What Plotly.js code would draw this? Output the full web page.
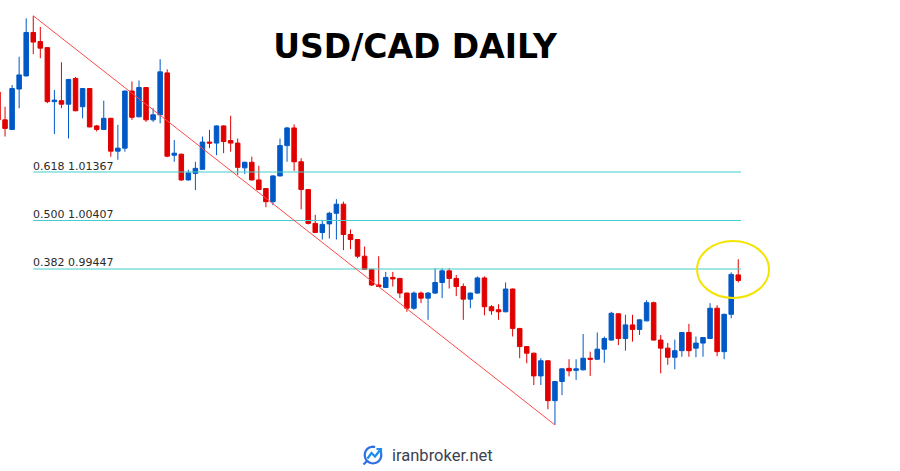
<!DOCTYPE html>
<html>
<head>
<meta charset="utf-8">
<script src="https://cdn.plot.ly/plotly-3.0.1.min.js"></script>
<style>html,body{margin:0;padding:0;background:#fff;}#chart{width:900px;height:471px;}</style>
</head>
<body>
<div id="chart"></div>
<script>
// Daily USD/CAD candles
const opens  = [1.0295,1.0240,1.0221,1.0301,1.0327,1.0413,1.0395,1.0383,1.0276,1.0278,
                1.0271,1.0322,1.0266,1.0302,1.0228,1.0221,1.0243,1.0178,1.0184,1.0297,
                1.0246,1.0304,1.0240,1.0250,1.0333,1.0170,1.0172,1.0121,1.0134,1.0142,
                1.0196,1.0194,1.0228,1.0199,1.0194,1.0145,1.0156,1.0121,1.0104,1.0078,
                1.0129,1.0189,1.0224,1.0157,1.0102,1.0035,1.0017,1.0034,1.0055,1.0073,
                1.0013,1.0003,0.9970,0.9944,0.9913,0.9908,0.9928,0.9926,0.9897,0.9867,
                0.9897,0.9887,0.9897,0.9918,0.9941,0.9926,0.9910,0.9885,0.9897,0.9927,
                0.9870,0.9864,0.9860,0.9905,0.9827,0.9791,0.9778,0.9733,0.9763,0.9684,
                0.9722,0.9748,0.9744,0.9745,0.9768,0.9766,0.9786,0.9804,0.9856,0.9807,
                0.9834,0.9825,0.9842,0.9878,0.9804,0.9788,0.9770,0.9783,0.9819,0.9788,
                0.9798,0.9807,0.9867,0.9781,0.9855,0.9933];
const highs  = [1.0299,1.0266,1.0309,1.0365,1.0441,1.0446,1.0424,1.0384,1.0299,1.0354,
                1.0321,1.0325,1.0303,1.0303,1.0230,1.0278,1.0244,1.0230,1.0298,1.0316,
                1.0318,1.0305,1.0263,1.0360,1.0340,1.0200,1.0173,1.0141,1.0157,1.0207,
                1.0220,1.0229,1.0229,1.0248,1.0203,1.0157,1.0167,1.0149,1.0105,1.0130,
                1.0203,1.0226,1.0231,1.0164,1.0103,1.0052,1.0042,1.0058,1.0083,1.0078,
                1.0023,1.0004,0.9989,0.9945,0.9970,0.9939,0.9939,0.9927,0.9898,0.9900,
                0.9900,0.9899,0.9946,0.9946,0.9946,0.9933,0.9916,0.9898,0.9930,0.9930,
                0.9873,0.9875,0.9918,0.9906,0.9828,0.9792,0.9779,0.9768,0.9764,0.9723,
                0.9748,0.9766,0.9766,0.9816,0.9781,0.9819,0.9811,0.9860,0.9857,0.9854,
                0.9854,0.9845,0.9883,0.9880,0.9814,0.9798,0.9805,0.9820,0.9836,0.9811,
                0.9810,0.9877,0.9873,0.9856,0.9938,0.9964];
const lows   = [1.0236,1.0207,1.0220,1.0263,1.0326,1.0370,1.0362,1.0273,1.0212,1.0263,
                1.0203,1.0257,1.0243,1.0225,1.0217,1.0220,1.0167,1.0161,1.0177,1.0240,
                1.0245,1.0236,1.0236,1.0233,1.0166,1.0157,1.0119,1.0120,1.0101,1.0141,
                1.0184,1.0170,1.0174,1.0177,1.0131,1.0133,1.0120,1.0101,1.0067,1.0071,
                1.0128,1.0157,1.0139,1.0063,1.0033,1.0016,1.0003,1.0005,1.0003,0.9982,
                0.9984,0.9966,0.9943,0.9911,0.9909,0.9907,0.9910,0.9887,0.9860,0.9864,
                0.9877,0.9844,0.9895,0.9887,0.9906,0.9891,0.9844,0.9867,0.9896,0.9853,
                0.9854,0.9844,0.9859,0.9811,0.9768,0.9758,0.9715,0.9715,0.9667,0.9636,
                0.9695,0.9732,0.9725,0.9744,0.9733,0.9765,0.9759,0.9803,0.9794,0.9783,
                0.9801,0.9814,0.9841,0.9803,0.9738,0.9755,0.9746,0.9771,0.9771,0.9770,
                0.9771,0.9806,0.9772,0.9766,0.9847,0.9918];
const closes = [1.0240,1.0223,1.0302,1.0329,1.0413,1.0394,1.0382,1.0276,1.0279,1.0271,
                1.0320,1.0258,1.0302,1.0226,1.0221,1.0243,1.0178,1.0184,1.0297,1.0245,
                1.0304,1.0240,1.0250,1.0335,1.0168,1.0174,1.0121,1.0135,1.0144,1.0196,
                1.0194,1.0228,1.0197,1.0194,1.0146,1.0156,1.0121,1.0102,1.0078,1.0129,
                1.0189,1.0224,1.0157,1.0102,1.0035,1.0017,1.0033,1.0055,1.0073,1.0013,
                1.0003,0.9970,0.9944,0.9913,0.9910,0.9928,0.9925,0.9897,0.9867,0.9897,
                0.9887,0.9897,0.9918,0.9941,0.9926,0.9910,0.9885,0.9897,0.9927,0.9870,
                0.9862,0.9860,0.9905,0.9827,0.9791,0.9778,0.9733,0.9763,0.9684,0.9722,
                0.9747,0.9743,0.9747,0.9768,0.9766,0.9786,0.9807,0.9857,0.9807,0.9834,
                0.9825,0.9844,0.9878,0.9804,0.9788,0.9770,0.9783,0.9819,0.9783,0.9798,
                0.9809,0.9867,0.9781,0.9855,0.9934,0.9922];

// Fibonacci retracement levels and their prices (as labelled)
const fibRatios = ['0.618', '0.500', '0.382'];
const fibPrices = [1.01367, 1.00407, 0.99447];

const titleText = 'USD/CAD DAILY';
const watermark = 'iranbroker.net';

// ---- derived ----
const days = opens.map((_, i) => i);
let iHigh = 0, iLow = 0;
highs.forEach((v, i) => { if (v > highs[iHigh]) iHigh = i; });
lows.forEach((v, i) => { if (v < lows[iLow]) iLow = i; });
const lastDay = days[days.length - 1];

const RED = '#e10000', BLUE = '#0059c6', FIB = '#45cccc';

const traces = [];
fibPrices.forEach(p => traces.push({
  type: 'scatter', mode: 'lines', x: [iHigh, lastDay + 0.4], y: [p, p],
  line: {color: FIB, width: 1.2}, hoverinfo: 'skip', showlegend: false
}));
traces.push({
  type: 'scatter', mode: 'lines', x: [iHigh, iLow], y: [highs[iHigh], lows[iLow]],
  line: {color: '#ff4a4a', width: 1}, hoverinfo: 'skip', showlegend: false
});
traces.push({
  type: 'candlestick', x: days, open: opens, high: highs, low: lows, close: closes,
  increasing: {line: {color: BLUE, width: 1}, fillcolor: BLUE},
  decreasing: {line: {color: RED, width: 1}, fillcolor: RED},
  whiskerwidth: 0, showlegend: false
});

const W = 900, H = 471;
const px = x => x / W, py = y => 1 - y / H;

function logoPath() {
  const cx = 373, cy = 455, r = 8.3;
  let d = '';
  for (let a = 15; a >= -285; a -= 15) {
    const t = a * Math.PI / 180;
    const x = cx + r * Math.cos(t), y = cy - r * Math.sin(t);
    d += (d ? ' L ' : 'M ') + px(x).toFixed(5) + ',' + py(y).toFixed(5);
  }
  return d;
}
function pathFrom(pts) {
  return pts.map((p, k) => (k ? 'L ' : 'M ') + px(p[0]).toFixed(5) + ',' + py(p[1]).toFixed(5)).join(' ');
}

const shapes = [
  {type: 'circle', xref: 'paper', yref: 'paper', x0: px(697), x1: px(769), y0: py(298), y1: py(241),
   line: {color: '#f3e400', width: 2}},
  {type: 'path', xref: 'paper', yref: 'paper', path: logoPath(), line: {color: '#2f6fe4', width: 2.2}},
  {type: 'path', xref: 'paper', yref: 'paper', path: pathFrom([[367.5,458.5],[371.5,453],[375,456.5],[380.5,449.5]]), line: {color: '#1e8cf0', width: 2.2}},
  {type: 'path', xref: 'paper', yref: 'paper', path: pathFrom([[376.5,449],[381,449],[381,453.5]]), line: {color: '#1e8cf0', width: 2.2}},
  {type: 'path', xref: 'paper', yref: 'paper', path: pathFrom([[367,461],[363.5,464.5]]), line: {color: '#2f6fe4', width: 2.2}}
];

const annotations = fibRatios.map((r, k) => ({
  x: iHigh, y: fibPrices[k], xref: 'x', yref: 'y', xanchor: 'left', yanchor: 'bottom',
  text: r + ' ' + fibPrices[k].toFixed(5), showarrow: false, xshift: -2, yshift: -2.5,
  font: {family: 'DejaVu Sans', size: 11, color: '#2a2a2a'}
}));
annotations.push({
  x: px(442), y: py(455), xref: 'paper', yref: 'paper', xanchor: 'center', yanchor: 'middle',
  text: watermark, showarrow: false, font: {family: 'Roboto', size: 16.5, color: '#3b4250'}
});

const layout = {
  width: W, height: H,
  margin: {l: 0, r: 0, t: 0, b: 0, pad: 0},
  paper_bgcolor: '#ffffff', plot_bgcolor: '#ffffff',
  title: {text: titleText, x: px(415), xanchor: 'center', y: 1 - 46 / H, yanchor: 'middle',
          font: {family: 'DejaVu Sans', size: 33, weight: 'bold', color: '#000000'}},
  xaxis: {range: [2 / 7.05, 2 / 7.05 + W / 7.05], visible: false, showgrid: false, zeroline: false,
          rangeslider: {visible: false}, fixedrange: true},
  yaxis: {range: [1.04773 - 0.000198 * H, 1.04773], visible: false, showgrid: false, zeroline: false, fixedrange: true},
  boxgap: 0.2, boxgroupgap: 0.2,
  showlegend: false, shapes: shapes, annotations: annotations,
  hovermode: false
};

Plotly.newPlot('chart', traces, layout, {displayModeBar: false, staticPlot: true});
</script>
</body>
</html>
